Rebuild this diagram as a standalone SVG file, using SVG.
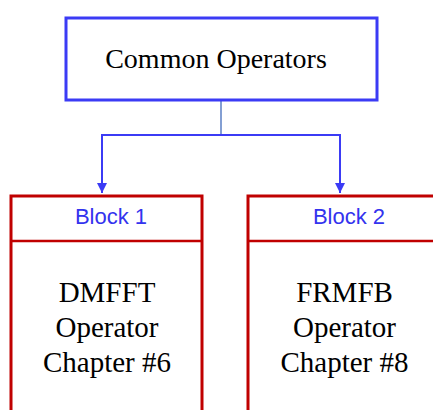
<svg xmlns="http://www.w3.org/2000/svg" width="433" height="410" viewBox="0 0 433 410">
<style>
.serif{font-family:"Liberation Serif","Times New Roman",serif;fill:#000;text-anchor:middle}
.lbl{font-family:"Liberation Sans",Arial,sans-serif;fill:#3333ee;font-size:22px;text-anchor:middle}
.blk{fill:#fff;stroke:#c00000;stroke-width:3}
.div{stroke:#c00000;stroke-width:2.5}
.con{fill:none;stroke:#3b3bf5;stroke-width:2}
</style>
<defs>
<marker id="ah" viewBox="0 0 10 10" refX="10" refY="5" markerWidth="5" markerHeight="5" orient="auto" markerUnits="strokeWidth">
<path d="M0,0 L10,5 L0,10 Z" fill="#3b3bf5"/>
</marker>
</defs>
<rect width="433" height="410" fill="#fff"/>
<g id="connectors">
<line x1="221" y1="100" x2="221" y2="135" stroke="#5a7fc4" stroke-width="1.5"/>
<path class="con" d="M221,135 H102 V193" marker-end="url(#ah)"/>
<path class="con" d="M221,135 H340 V193" marker-end="url(#ah)"/>
</g>
<g id="common">
<rect x="66" y="18" width="311" height="82" fill="#fff" stroke="#3b3bf5" stroke-width="3"/>
<text class="serif" x="216" y="68" font-size="28">Common Operators</text>
</g>
<g id="block1">
<rect class="blk" x="11" y="196" width="191" height="230"/>
<line class="div" x1="11" y1="241" x2="202" y2="241"/>
<text class="lbl" x="111" y="224">Block 1</text>
<text class="serif" x="107" y="302" font-size="29">DMFFT</text>
<text class="serif" x="107" y="337" font-size="29">Operator</text>
<text class="serif" x="107" y="372" font-size="29">Chapter #6</text>
</g>
<g id="block2">
<rect class="blk" x="248" y="196" width="191" height="230"/>
<line class="div" x1="248" y1="241" x2="439" y2="241"/>
<text class="lbl" x="349" y="224">Block 2</text>
<text class="serif" x="344.5" y="302" font-size="29">FRMFB</text>
<text class="serif" x="344.5" y="337" font-size="29">Operator</text>
<text class="serif" x="344.5" y="372" font-size="29">Chapter #8</text>
</g>
</svg>
